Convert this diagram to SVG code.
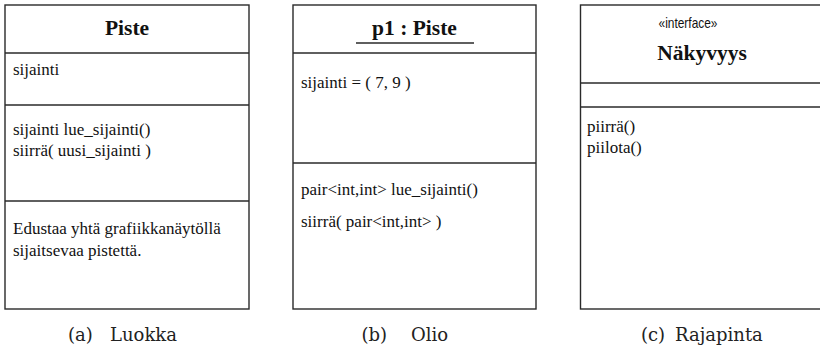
<svg xmlns="http://www.w3.org/2000/svg" width="820" height="351" viewBox="0 0 820 351">
  <style>
    .box { fill: #ffffff; stroke: #2a2a2a; stroke-width: 1.4; }
    .sep { stroke: #2a2a2a; stroke-width: 1.4; }
    .serif { font-family: Liberation Serif, DejaVu Serif, Times, serif; }
    .t { font-size: 17px; fill: #111; }
    .title { font-size: 21.5px; font-weight: bold; fill: #111; text-anchor: middle; }
    .stereo { font-family: Liberation Sans, Arial, sans-serif; font-size: 15px; fill: #111; text-anchor: middle; }
    .cap { font-family: DejaVu Serif, Liberation Serif, serif; font-size: 18px; fill: #222; }
  </style>
  <rect width="820" height="351" fill="#ffffff"/>

  <!-- (a) class Piste -->
  <g id="class-piste">
    <rect class="box" x="5" y="5" width="244" height="304"/>
    <line class="sep" x1="5" y1="53" x2="249" y2="53"/>
    <line class="sep" x1="5" y1="105" x2="249" y2="105"/>
    <line class="sep" x1="5" y1="201" x2="249" y2="201"/>
    <g class="serif">
      <text class="title" x="127" y="35">Piste</text>
      <text class="t" x="13" y="75">sijainti</text>
      <text class="t" x="13" y="134.5">sijainti lue_sijainti()</text>
      <text class="t" x="13" y="156">siirrä( uusi_sijainti )</text>
      <text class="t" x="13" y="234">Edustaa yhtä grafiikkanäytöllä</text>
      <text class="t" x="13" y="256">sijaitsevaa pistettä.</text>
    </g>
    <text class="cap" x="68" y="341">(a)</text>
    <text class="cap" x="110" y="341">Luokka</text>
  </g>

  <!-- (b) object p1 -->
  <g id="object-p1">
    <rect class="box" x="293" y="5" width="243" height="304"/>
    <line class="sep" x1="293" y1="53" x2="536" y2="53"/>
    <line class="sep" x1="293" y1="163" x2="536" y2="163"/>
    <line class="sep" x1="356" y1="43" x2="474" y2="43"/>
    <g class="serif">
      <text class="title" x="414.5" y="35">p1 : Piste</text>
      <text class="t" x="301" y="88">sijainti = ( 7, 9 )</text>
      <text class="t" x="301" y="195">pair&lt;int,int&gt; lue_sijainti()</text>
      <text class="t" x="301" y="227">siirrä( pair&lt;int,int&gt; )</text>
    </g>
    <text class="cap" x="361.5" y="341">(b)</text>
    <text class="cap" x="411" y="341">Olio</text>
  </g>

  <!-- (c) interface Näkyvyys -->
  <g id="interface-nakyvyys">
    <rect class="box" x="580.5" y="5" width="243.5" height="304"/>
    <line class="sep" x1="580.5" y1="83" x2="824" y2="83"/>
    <line class="sep" x1="580.5" y1="107" x2="824" y2="107"/>
    <text class="stereo" x="688" y="27.5" textLength="59" lengthAdjust="spacingAndGlyphs">«interface»</text>
    <g class="serif">
      <text class="title" x="702" y="60">Näkyvyys</text>
      <text class="t" x="587" y="131.5">piirrä()</text>
      <text class="t" x="587" y="153">piilota()</text>
    </g>
    <text class="cap" x="641" y="341">(c)</text>
    <text class="cap" x="675" y="341">Rajapinta</text>
  </g>

  <g id="connectors"/>
</svg>
